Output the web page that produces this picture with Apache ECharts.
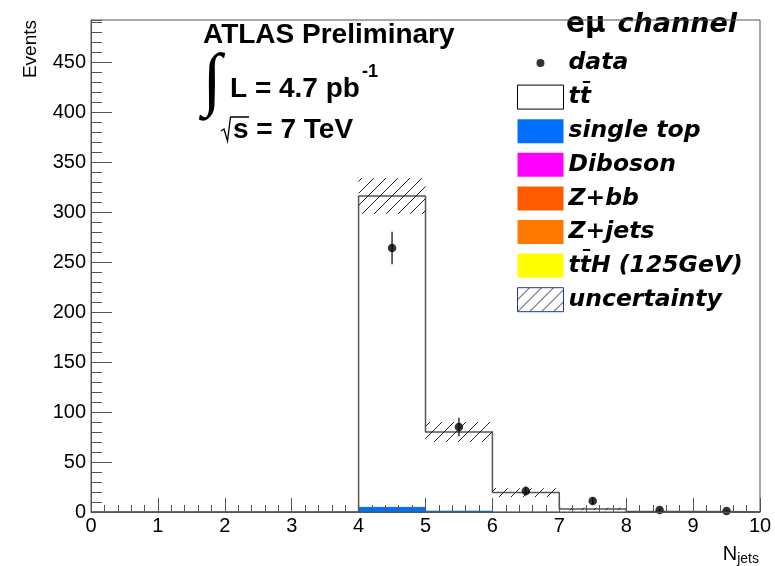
<!DOCTYPE html>
<html><head><meta charset="utf-8">
<script src="https://cdn.jsdelivr.net/npm/echarts@6/dist/echarts.min.js"></script>
<style>html,body{margin:0;padding:0;background:#fff}#c{width:775px;height:566px}</style>
</head><body><div id="c"></div>
<script>
// ---- data ----
const binLow  = [0,1,2,3,4,5,6,7,8,9];
const binHigh = [1,2,3,4,5,6,7,8,9,10];
const singleTop = [0,0,0,0,5.0,1.5,0.5,0.15,0.03,0.01];
const diboson   = [0,0,0,0,0.1,0.05,0.02,0.01,0,0];
const zbb       = [0,0,0,0,0.05,0.02,0.01,0,0,0];
const zjets     = [0,0,0,0,0.1,0.05,0.02,0.01,0,0];
const ttH       = [0,0,0,0,0.15,0.08,0.03,0.01,0,0];
const ttbar     = [0,0,0,0,310.6,78.3,18.8,2.8,0.55,0.2];
const uncertainty = [0,0,0,0,18,10,4.3,1.2,0.3,0.1];
const dataValues = [null,null,null,null,264,85,21,11,2,1];
const dataErrors = [0,0,0,0,16.2,9.2,4.6,3.3,1.4,1.0];
const xAxisRange = [0,10];
const yAxisRange = [0,492];

const stackDefs = [
  {name:'single top', values: singleTop, color:'#0070ff'},
  {name:'Diboson', values: diboson, color:'#ff00ff'},
  {name:'Z+bb', values: zbb, color:'#ff5a00'},
  {name:'Z+jets', values: zjets, color:'#ff7800'},
  {name:'tt\u0304H (125GeV)', values: ttH, color:'#ffff00'},
  {name:'tt\u0304', values: ttbar, color:'#ffffff'}
];

// cumulative stack
const cum = binLow.map(() => 0);
const stackSeries = stackDefs.map(d => {
  const rows = binLow.map((lo, i) => {
    const base = cum[i];
    cum[i] += d.values[i];
    return [lo, binHigh[i], base, cum[i]];
  }).filter(r => r[3] > r[2]);
  return {
    name: d.name, type: 'custom', coordinateSystem: 'cartesian2d', clip: true,
    itemStyle: {color: d.color},
    encode: {x: [0,1], y: [2,3]},
    data: rows,
    renderItem: (params, api) => {
      const p0 = api.coord([api.value(0), api.value(2)]);
      const p1 = api.coord([api.value(1), api.value(3)]);
      return {type:'rect', shape:{x:p0[0], y:p1[1], width:p1[0]-p0[0], height:p0[1]-p1[1]},
              style:{fill:d.color, stroke:null}};
    },
    z: 2
  };
});
const total = cum.slice();

// outline of the stacked total
const outlineData = binLow.map((lo, i) => [lo, total[i]]);
outlineData.push([binHigh[binHigh.length-1], total[total.length-1]]);

function hatchCanvas() {
  const c = document.createElement('canvas');
  c.width = 12; c.height = 12;
  const g = c.getContext('2d');
  g.strokeStyle = '#222'; g.lineWidth = 1;
  g.beginPath();
  g.moveTo(0,12); g.lineTo(12,0);
  g.moveTo(-6,6); g.lineTo(6,-6);
  g.moveTo(6,18); g.lineTo(18,6);
  g.stroke();
  return c;
}
const hatch = {image: hatchCanvas(), repeat: 'repeat'};

const bandData = binLow.map((lo, i) => [lo, binHigh[i], Math.max(0, total[i]-uncertainty[i]), total[i]+uncertainty[i]])
  .filter((r, i) => uncertainty[i] > 0);

const pointData = binLow.map((lo, i) => [(lo+binHigh[i])/2, dataValues[i], dataErrors[i]]).filter(r => r[1] !== null);

const chart = echarts.init(document.getElementById('c'), null, {renderer:'canvas'});
const tickColor = '#555';
const legendText = {fontFamily:'DejaVu Sans', fontWeight:'bold', fontStyle:'italic', fontSize:23.5, color:'#000', lineHeight:24};

chart.setOption({
  animation: false,
  backgroundColor: '#fff',
  title: {
    text: '{u|e\u03bc}{i|channel}', left: 561, top: 6,
    textStyle: {rich: {
      u: {fontFamily:'DejaVu Sans', fontWeight:'bold', fontSize:28, color:'#000', padding:[0,12,0,0]},
      i: {fontFamily:'DejaVu Sans', fontWeight:'bold', fontStyle:'italic', fontSize:27, color:'#000'}
    }}
  },
  legend: {
    orient: 'vertical', left: 512, top: 46, itemWidth: 46, itemHeight: 24, itemGap: 9.6,
    textStyle: legendText, selectedMode: false,
    data: [
      {name:'data', icon:'path://M0,0h0.01M46,24h0.01M23,8a4,4 0 1,0 0.001,0z', itemStyle:{color:'#000', borderWidth:0}},
      {name:'tt\u0304', icon:'rect', itemStyle:{color:'#fff', borderColor:'#000', borderWidth:1}},
      {name:'single top', icon:'rect', itemStyle:{color:'#0070ff', borderWidth:0}},
      {name:'Diboson', icon:'rect', itemStyle:{color:'#ff00ff', borderWidth:0}},
      {name:'Z+bb', icon:'rect', itemStyle:{color:'#ff5a00', borderWidth:0}},
      {name:'Z+jets', icon:'rect', itemStyle:{color:'#ff7800', borderWidth:0}},
      {name:'tt\u0304H (125GeV)', icon:'rect', itemStyle:{color:'#ffff00', borderWidth:0}},
      {name:'uncertainty', icon:'rect', itemStyle:{color:hatch, borderColor:'#2233aa', borderWidth:1}}
    ]
  },
  grid: {left: 91, right: 15, top: 20, bottom: 53, show: true, borderColor: tickColor, borderWidth: 1, backgroundColor:'transparent', z: 10},
  xAxis: {
    type: 'value', min: xAxisRange[0], max: xAxisRange[1], interval: 1, z: 10,
    name: '{n|N}{s|jets}', nameLocation: 'end', nameGap: -1,
    nameTextStyle: {align:'right', verticalAlign:'top', padding:[30,0,0,0],
      rich: {n:{fontFamily:'Liberation Sans', fontSize:20, color:'#000'}, s:{fontFamily:'Liberation Sans', fontSize:14, color:'#000', padding:[10,0,0,0]}}},
    axisLine: {show: true, onZero: false, lineStyle: {color: tickColor, width: 1}},
    axisTick: {show: true, inside: true, length: 14, lineStyle: {color: tickColor}},
    minorTick: {show: true, splitNumber: 5, length: 7, lineStyle: {color: tickColor}},
    axisLabel: {margin: 4, fontFamily:'Liberation Sans', fontSize: 20, color:'#000'},
    splitLine: {show: false}, minorSplitLine: {show: false}
  },
  yAxis: [{
    type: 'value', min: yAxisRange[0], max: yAxisRange[1], interval: 50, z: 10,
    axisLine: {show: true, onZero: false, lineStyle: {color: tickColor, width: 1}},
    axisTick: {show: true, inside: true, length: 21, lineStyle: {color: tickColor}},
    axisLabel: {margin: 5, fontFamily:'Liberation Sans', fontSize: 20, color:'#000', showMaxLabel: false},
    splitLine: {show: false}
  }, {
    type: 'value', min: yAxisRange[0], max: yAxisRange[1], interval: 10, z: 10, position: 'left',
    axisLine: {show: false},
    axisTick: {show: true, inside: true, length: 11, lineStyle: {color: tickColor}},
    axisLabel: {show: false},
    splitLine: {show: false}
  }],
  graphic: [
    {type:'text', x:203, y:35, style:{text:'ATLAS Preliminary', font:'bold 28px "Liberation Sans"', fill:'#000', align:'left', verticalAlign:'middle', textAlign:'left', textVerticalAlign:'middle'}},
    {type:'text', x:212, y:84, style:{text:'\u222b', font:'70px "Liberation Serif"', fill:'#000', align:'center', verticalAlign:'middle', textAlign:'center', textVerticalAlign:'middle'}},
    {type:'text', x:230, y:89, style:{text:'L = 4.7 pb', font:'bold 28px "Liberation Sans"', fill:'#000', align:'left', verticalAlign:'middle', textAlign:'left', textVerticalAlign:'middle'}},
    {type:'text', x:362, y:72, style:{text:'-1', font:'bold 18px "Liberation Sans"', fill:'#000', align:'left', verticalAlign:'middle', textAlign:'left', textVerticalAlign:'middle'}},
    {type:'text', x:233, y:130, style:{text:'s = 7 TeV', font:'bold 28px "Liberation Sans"', fill:'#000', align:'left', verticalAlign:'middle', textAlign:'left', textVerticalAlign:'middle'}},
    {type:'polyline', shape:{points:[[221,131],[224,129],[227.5,141],[230.5,117],[249,117]]}, style:{stroke:'#000', lineWidth:1.3, fill:null}},
    {type:'text', x:31, y:20, rotation: Math.PI/2, style:{text:'Events', font:'19px "Liberation Sans"', fill:'#000', align:'right', verticalAlign:'middle', textAlign:'right', textVerticalAlign:'middle'}}
  ],
  series: [
    ...stackSeries,
    {
      name: 'outline', type: 'line', data: outlineData, step: 'end', showSymbol: false, symbol: 'none',
      lineStyle: {color: '#555', width: 1.5}, z: 3, silent: true, clip: true
    },
    {
      name: 'uncertainty', type: 'custom', coordinateSystem: 'cartesian2d', clip: true, z: 4,
      itemStyle: {color: hatch},
      encode: {x:[0,1], y:[2,3]},
      data: bandData,
      renderItem: (params, api) => {
        const p0 = api.coord([api.value(0), api.value(2)]);
        const p1 = api.coord([api.value(1), api.value(3)]);
        return {type:'rect', shape:{x:p0[0], y:p1[1], width:p1[0]-p0[0], height:p0[1]-p1[1]}, style:{fill:hatch, stroke:null}};
      }
    },
    {
      name: 'dataErr', type: 'custom', coordinateSystem: 'cartesian2d', clip: true, z: 5,
      encode: {x:0, y:1},
      data: pointData,
      renderItem: (params, api) => {
        const x = api.value(0), v = api.value(1), e = api.value(2);
        const a = api.coord([x, v - e]), b = api.coord([x, v + e]);
        return {type:'line', shape:{x1:a[0], y1:a[1], x2:b[0], y2:b[1]}, style:{stroke:'#000', lineWidth:1.2}};
      }
    },
    {
      name: 'data', type: 'scatter', data: pointData.map(r => [r[0], r[1]]), symbol: 'circle', symbolSize: 8.5,
      itemStyle: {color: '#000'}, z: 6
    }
  ]
});
</script></body></html>
